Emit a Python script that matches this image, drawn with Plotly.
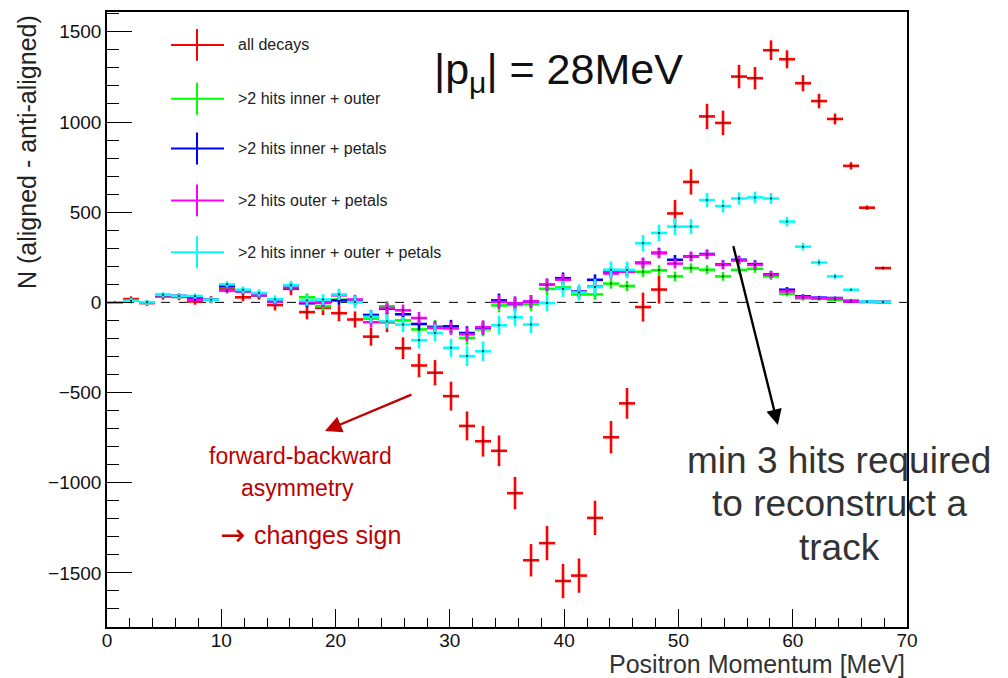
import plotly.graph_objects as go

# ---------------- data ----------------
bin_centers = [0.7, 2.1, 3.5, 4.9, 6.3, 7.7, 9.1, 10.5, 11.9, 13.3,
               14.7, 16.1, 17.5, 18.9, 20.3, 21.7, 23.1, 24.5, 25.9, 27.3,
               28.7, 30.1, 31.5, 32.9, 34.3, 35.7, 37.1, 38.5, 39.9, 41.3,
               42.7, 44.1, 45.5, 46.9, 48.3, 49.7, 51.1, 52.5, 53.9, 55.3,
               56.7, 58.1, 59.5, 60.9, 62.3, 63.7, 65.1, 66.5, 67.9, 69.3]
half_bin = 0.7

all_decays = [0, 18, -4, 33, 30, 5, 15, 75, 28, 40,
              -15, 75, -54, -30, -60, -95, -190, -110, -254, -350,
              -390, -520, -685, -770, -823, -1058, -1430, -1335, -1545, -1515,
              -1195, -748, -560, -26, 71, 493, 668, 1031, 995, 1252,
              1243, 1398, 1348, 1215, 1116, 1017, 757, 525, 190, None]
all_decays_err = [8, 15, 15, 18, 18, 18, 20, 22, 22, 25,
                  30, 35, 40, 40, 45, 45, 50, 55, 60, 65,
                  70, 80, 80, 85, 85, 90, 90, 95, 95, 95,
                  95, 90, 85, 80, 78, 75, 70, 70, 68, 65,
                  62, 55, 50, 45, 40, 30, 20, 12, 8, 0]

inner_outer = [0, 10, 0, 40, 35, 20, 15, 85, 60, 40,
               5, 85, 28, -22, 15, 10, -90, -22, -100, -150,
               -133, -140, -197, -150, -17, -15, -11, 75, 83, 44,
               44, 104, 91, 170, 178, 144, 190, 181, 144, 180,
               186, 144, 48, 22, 20, 15, 12, 3, 2, None]
inner_outer_err = [6, 10, 10, 12, 12, 12, 14, 15, 15, 16,
                   18, 20, 22, 24, 25, 26, 28, 30, 32, 34,
                   35, 36, 38, 38, 38, 38, 36, 34, 32, 30,
                   30, 28, 28, 28, 28, 27, 26, 25, 24, 23,
                   22, 20, 15, 12, 10, 8, 6, 4, 2, 0]

inner_petals = [0, 10, 0, 40, 35, 25, 15, 90, 65, 40,
                5, 85, -5, -2, 11, 10, -70, -35, -66, -120,
                -140, -133, -170, -140, 11, -6, 5, 98, 134, 60,
                125, 165, 172, 220, 275, 236, 255, 268, 210, 236,
                212, 155, 70, 33, 26, 24, 5, 3, 2, None]
inner_petals_err = [6, 10, 10, 12, 12, 12, 14, 15, 15, 16,
                    18, 20, 22, 24, 25, 26, 28, 30, 32, 34,
                    35, 36, 38, 38, 38, 38, 36, 34, 32, 30,
                    30, 28, 28, 28, 28, 27, 26, 25, 24, 23,
                    22, 20, 15, 12, 10, 8, 6, 4, 2, 0]

outer_petals = [0, 10, 0, 40, 35, 15, 15, 65, 60, 40,
                5, 85, 2, -3, 39, 16, -110, -31, -44, -87,
                -142, -144, -177, -138, 2, -6, 5, 98, 126, 57,
                88, 160, 170, 217, 272, 215, 254, 265, 208, 232,
                208, 153, 61, 28, 22, 22, 5, 3, 2, None]
outer_petals_err = [6, 10, 10, 12, 12, 12, 14, 15, 15, 16,
                    18, 20, 22, 24, 25, 26, 28, 30, 32, 34,
                    35, 36, 38, 38, 38, 38, 36, 34, 32, 30,
                    30, 28, 28, 28, 28, 27, 26, 25, 24, 23,
                    22, 20, 15, 12, 10, 8, 6, 4, 2, 0]

inner_outer_petals = [0, 9, 0, 42, 35, 35, 15, 100, 70, 52,
                      17, 95, 10, 16, 44, 2, -80, -105, -123, -210,
                      -170, -252, -298, -271, -127, -83, -123, -4, 75, 55,
                      85, 181, 180, 328, 385, 420, 420, 567, 534, 576,
                      582, 576, 448, 309, 221, 144, 70, 5, 2, None]
inner_outer_petals_err = [8, 15, 15, 15, 15, 15, 16, 18, 18, 20,
                          22, 25, 28, 30, 32, 34, 36, 40, 42, 45,
                          48, 50, 55, 55, 52, 50, 48, 45, 45, 45,
                          46, 46, 46, 46, 46, 46, 42, 40, 36, 34,
                          32, 30, 26, 22, 18, 14, 10, 4, 2, 0]

series_names = ["all decays", ">2 hits inner + outer", ">2 hits inner + petals",
                ">2 hits outer + petals", ">2 hits inner + outer + petals"]
series_values = [all_decays, inner_outer, inner_petals, outer_petals, inner_outer_petals]
series_errors = [all_decays_err, inner_outer_err, inner_petals_err, outer_petals_err,
                 inner_outer_petals_err]
series_colors = ["#ff0000", "#00ff00", "#0000ff", "#ff00ff", "#00ffff"]

x_range = [0, 70]
y_range = [-1800, 1610]

# ---------------- layout geometry (pixels) ----------------
W, H = 1008, 678
ML, MR, MT, MB = 107, 101, 10, 51
PW, PH = W - ML - MR, H - MT - MB


def px(xp):
    return (xp - ML) / PW


def py(yp):
    return (H - MB - yp) / PH


FONT = "Liberation Sans, Arial, sans-serif"

fig = go.Figure()

for name, vals, errs, col in zip(series_names, series_values, series_errors, series_colors):
    fig.add_trace(go.Scatter(
        x=bin_centers, y=vals, mode="markers", name=name,
        marker=dict(size=2, color="#111111"),
        error_y=dict(type="data", array=errs, width=0, thickness=2.6, color=col),
        error_x=dict(type="constant", value=half_bin, width=0, thickness=2.6, color=col),
        showlegend=False, cliponaxis=True,
    ))

shapes = []
annotations = []

# zero dashed line
shapes.append(dict(type="line", xref="x", yref="y", x0=x_range[0], x1=x_range[1], y0=0, y1=0,
                   line=dict(color="#000000", width=1, dash="dash"), layer="below"))

# legend (ROOT style crosses)
legend_y = [43, 97, 147, 199, 251]
for name, col, ly in zip(series_names, series_colors, legend_y):
    shapes.append(dict(type="line", xref="paper", yref="paper",
                       x0=px(171), x1=px(224), y0=py(ly), y1=py(ly),
                       line=dict(color=col, width=2)))
    shapes.append(dict(type="line", xref="paper", yref="paper",
                       x0=px(197), x1=px(197), y0=py(ly - 16), y1=py(ly + 16),
                       line=dict(color=col, width=2)))
    annotations.append(dict(xref="paper", yref="paper", x=px(236), y=py(ly),
                            xanchor="left", yanchor="middle", showarrow=False,
                            text=name, font=dict(family=FONT, size=16, color="#222222")))

# big label
annotations.append(dict(xref="paper", yref="paper", x=px(432), y=py(70),
                        xanchor="left", yanchor="middle", showarrow=False,
                        text="|p<sub>μ</sub>| = 28MeV",
                        font=dict(family=FONT, size=43, color="#111111")))

# red annotation
red_txt = "#c00000"
annotations.append(dict(xref="x", yref="y", axref="x", ayref="y",
                        x=19.07, y=-713, ax=26.77, ay=-508, text="", showarrow=True,
                        arrowhead=2, arrowsize=1.4, arrowwidth=2.4, arrowcolor=red_txt))
annotations.append(dict(xref="paper", yref="paper", x=px(300), y=py(455), showarrow=False,
                        xanchor="center", yanchor="middle", text="forward-backward",
                        font=dict(family=FONT, size=23, color=red_txt)))
annotations.append(dict(xref="paper", yref="paper", x=px(297), y=py(488), showarrow=False,
                        xanchor="center", yanchor="middle", text="asymmetry",
                        font=dict(family=FONT, size=23, color=red_txt)))
annotations.append(dict(xref="paper", yref="paper", x=px(218), y=py(534), showarrow=False,
                        xanchor="left", yanchor="middle", text="\u2192",
                        font=dict(family="DejaVu Sans", size=30, color=red_txt)))
annotations.append(dict(xref="paper", yref="paper", x=px(252), y=py(535), showarrow=False,
                        xanchor="left", yanchor="middle", text="changes sign",
                        font=dict(family=FONT, size=25, color=red_txt)))

# black arrow and text
annotations.append(dict(xref="x", yref="y", axref="x", ayref="y",
                        x=58.7, y=-680, ax=54.77, ay=320, text="", showarrow=True,
                        arrowhead=2, arrowsize=1.3, arrowwidth=2.4, arrowcolor="#000000"))
for t, yy in zip(["min 3 hits required", "to reconstruct a", "track"], [460, 503, 547]):
    annotations.append(dict(xref="paper", yref="paper", x=px(839), y=py(yy), showarrow=False,
                            xanchor="center", yanchor="middle", text=t,
                            font=dict(family=FONT, size=37, color="#333333")))

# axis titles
annotations.append(dict(xref="paper", yref="paper", x=px(27), y=py(11), showarrow=False,
                        xanchor="center", yanchor="top", textangle=-90,
                        text="N (aligned - anti-aligned)",
                        font=dict(family=FONT, size=25, color="#222222")))
annotations.append(dict(xref="paper", yref="paper", x=1.0, y=py(664), showarrow=False,
                        xanchor="right", yanchor="middle",
                        text="Positron Momentum [MeV]",
                        font=dict(family=FONT, size=25, color="#333333")))

fig.update_layout(
    width=W, height=H,
    margin=dict(l=ML, r=MR, t=MT, b=MB),
    paper_bgcolor="white", plot_bgcolor="white",
    shapes=shapes, annotations=annotations, showlegend=False,
    xaxis=dict(range=x_range, showgrid=False, zeroline=False,
               showline=True, linecolor="black", linewidth=1.5, mirror=True,
               ticks="inside", ticklen=18, tickwidth=1, tickcolor="black",
               dtick=10, tick0=0, ticklabelstandoff=-5,
               minor=dict(ticks="inside", ticklen=9, dtick=2, tickcolor="black", showgrid=False),
               tickfont=dict(family=FONT, size=19, color="#111111")),
    yaxis=dict(range=y_range, showgrid=False, zeroline=False,
               showline=True, linecolor="black", linewidth=1.5, mirror=True,
               ticks="inside", ticklen=25, tickwidth=1, tickcolor="black",
               dtick=500, tick0=0,
               minor=dict(ticks="inside", ticklen=12, dtick=100, tickcolor="black", showgrid=False),
               tickfont=dict(family=FONT, size=19, color="#111111")),
)

fig.write_html("out.html")
